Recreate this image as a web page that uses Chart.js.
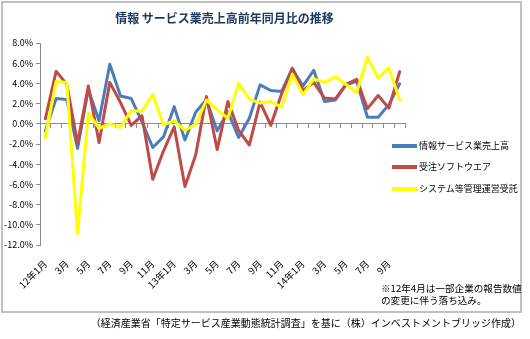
<!DOCTYPE html>
<html><head><meta charset="utf-8">
<script src="https://cdn.jsdelivr.net/npm/chart.js@4.4.1/dist/chart.umd.min.js"></script>
<style>
html,body{margin:0;padding:0;background:#fff;}
#wrap{position:relative;width:530px;height:339px;overflow:hidden;font-family:"Noto Sans CJK JP",sans-serif;color:#000;}
#frame{position:absolute;left:1px;top:1px;width:517px;height:308px;border:2px solid #c0c0c0;}
#c{position:absolute;left:0;top:0;}
.t{position:absolute;white-space:nowrap;line-height:1;}
.lg{position:absolute;left:392px;width:25px;height:4px;}
</style></head><body>
<div id="wrap">
<div id="frame"></div>
<canvas id="c" width="530" height="339"></canvas>
<div class="t" style="left:0;width:449px;text-align:center;top:12px;font-size:12px;font-weight:bold;color:#1F3A60;">情報 サービス業売上高前年同月比の推移</div>
<div class="lg" style="top:144px;background:#4A7EBB"></div>
<div class="t" style="left:419px;top:141px;font-size:9px;">情報サービス業売上高</div>
<div class="lg" style="top:165px;background:#BE4B48"></div>
<div class="t" style="left:419px;top:162px;font-size:9px;">受注ソフトウエア</div>
<div class="lg" style="top:187px;background:#FFFF00"></div>
<div class="t" style="left:419px;top:184px;font-size:9px;">システム等管理運営受託</div>
<div class="t" style="left:381px;top:284px;font-size:9.6px;">※12年4月は一部企業の報告数値</div>
<div class="t" style="left:381px;top:296px;font-size:9.6px;">の変更に伴う落ち込み。</div>
<div class="t" style="right:9px;top:318px;font-size:10px;">（経済産業省「特定サービス産業動態統計調査」を基に（株）インベストメントブリッジ作成）</div>
</div>
<script>
const categories = ['12年1月','2月','3月','4月','5月','6月','7月','8月','9月','10月','11月','12月',
  '13年1月','2月','3月','4月','5月','6月','7月','8月','9月','10月','11月','12月',
  '14年1月','2月','3月','4月','5月','6月','7月','8月','9月','10月'];
const tickLabels = ['12年1月','','3月','','5月','','7月','','9月','','11月','',
  '13年1月','','3月','','5月','','7月','','9月','','11月','',
  '14年1月','','3月','','5月','','7月','','9月',''];
const seriesNames = ['情報サービス業売上高','受注ソフトウエア','システム等管理運営受託'];
const infoServiceSales = [-0.7,2.5,2.4,-2.45,3.4,0.3,5.9,2.75,2.5,0.2,-2.35,-1.3,1.7,-1.6,1.15,2.4,-0.7,1.2,-1.35,0.55,3.85,3.3,3.2,5.45,3.75,5.3,2.2,2.35,3.85,4.2,0.65,0.65,1.9,3.95];
const customSoftware = [0.5,5.2,3.9,-1.95,3.75,-1.85,4.1,2.1,-0.15,0.8,-5.5,-2.7,-0.3,-6.2,-3.1,2.7,-2.55,2.2,-0.65,-2.1,2.15,-0.15,2.95,5.5,3.3,4.1,2.55,2.45,3.9,4.4,1.5,2.8,1.55,5.15];
const systemMgmt = [-1.35,4.2,4.1,-10.85,1.05,-0.45,0.0,-0.35,1.3,1.25,2.9,-0.1,0.3,-0.65,-0.05,2.35,1.4,0.55,4.0,2.45,2.05,2.2,1.65,4.9,2.9,4.45,4.1,4.65,3.9,3.1,6.6,4.5,5.55,2.35];
const yTicks = {min:-12, max:8, step:2};

const FAM = '"Noto Sans CJK JP", sans-serif';
const mk = (label, data, color, order) => ({label, data, borderColor: color, backgroundColor: color,
  borderWidth: 3, pointRadius: 0, tension: 0, borderJoinStyle: 'round', borderCapStyle: 'round', fill: false, order, xAxisID: 'x'});

new Chart(document.getElementById('c'), {
  type: 'line',
  data: {
    labels: categories,
    datasets: [
      mk(seriesNames[0], infoServiceSales, '#4A7EBB', 2),
      mk(seriesNames[1], customSoftware, '#BE4B48', 1),
      mk(seriesNames[2], systemMgmt, '#FFFF00', 0)
    ]
  },
  options: {
    responsive: false, animation: false, devicePixelRatio: 1,
    layout: {padding: {left: 0, top: 43, right: 125, bottom: 0}},
    plugins: {legend: {display: false}, title: {display: false}, tooltip: {enabled: false}},
    scales: {
      x: {
        type: 'category', position: 'bottom', offset: true,
        grid: {display: false, drawTicks: false}, border: {display: false},
        ticks: {autoSkip: false, minRotation: 45, maxRotation: 45, padding: 13, color: '#000',
          font: {size: 9.5, family: FAM}, callback: (v, i) => tickLabels[i]},
        afterFit: s => { s.height = 94; }
      },
      x0: {
        type: 'category', position: {y: 0}, offset: true,
        grid: {offset: true, drawOnChartArea: false, drawTicks: true, tickLength: 4, color: '#8c8c8c'},
        border: {color: '#8c8c8c', width: 1},
        ticks: {display: false},
        afterFit: s => { s.height = 0; }
      },
      y: {
        min: yTicks.min, max: yTicks.max,
        ticks: {stepSize: yTicks.step, padding: 3, color: '#000', font: {size: 9, family: FAM},
          callback: v => v.toFixed(1) + '%'},
        grid: {drawOnChartArea: false, tickLength: 4, color: '#8c8c8c'},
        border: {color: '#8c8c8c'},
        afterFit: s => { s.width = 40; }
      }
    }
  }
});
</script>
</body></html>
